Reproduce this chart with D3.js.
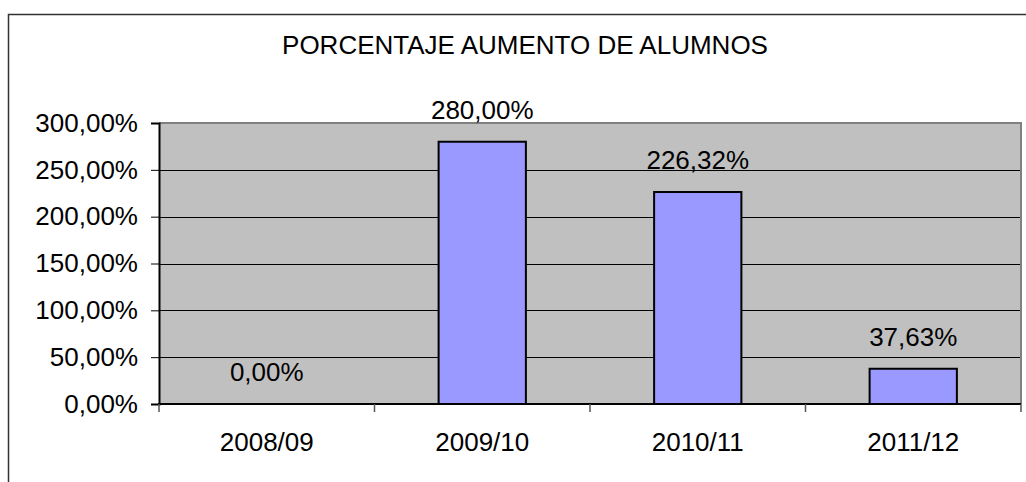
<!DOCTYPE html>
<html>
<head>
<meta charset="utf-8">
<script src="https://cdn.jsdelivr.net/npm/d3@7"></script>
<style>
html,body{margin:0;padding:0;background:#fff;}
svg{display:block;font-family:"Liberation Sans",Arial,sans-serif;}
</style>
</head>
<body>
<div id="bar"></div>
<script>
(function(){

const categories = ["2008/09","2009/10","2010/11","2011/12"];
const values = [0, 280, 226.32, 37.63];
const yTicks = [0, 50, 100, 150, 200, 250, 300];
const title = "PORCENTAJE AUMENTO DE ALUMNOS";

const width = 1026;
const height = 482;
const plot = {left:159, right:1021, top:123, bottom:404};
const fs = "26px";
const fmt = v => v.toFixed(2).replace(".", ",") + "%";

const svg = d3.select("#bar")
.append("svg")
.attr("width",width)
.attr("height",height);

// outer frame (runs past right and bottom edges)
svg.append("rect")
.attr("x",8.5).attr("y",14.5)
.attr("width",1040).attr("height",490)
.attr("fill","#fff")
.attr("stroke","#333")
.attr("stroke-width",1.5);

const x = d3.scaleBand()
.domain(categories)
.range([plot.left,plot.right])
.padding(0);

const y = d3.scaleLinear()
.domain([0,300])
.range([plot.bottom,plot.top]);

// plot background
svg.append("rect")
.attr("x",plot.left).attr("y",plot.top)
.attr("width",plot.right-plot.left)
.attr("height",plot.bottom-plot.top)
.attr("fill","#c0c0c0");

// gridlines
svg.append("g")
.selectAll("line")
.data(yTicks.filter(t=>t>0 && t<300))
.enter()
.append("line")
.attr("x1",plot.left).attr("x2",plot.right)
.attr("y1",d=>Math.round(y(d))+0.5).attr("y2",d=>Math.round(y(d))+0.5)
.attr("stroke","#000")
.attr("stroke-width",1);

// top and right border of plot area
svg.append("path")
.attr("d",`M${plot.left},${plot.top} H${plot.right} V${plot.bottom}`)
.attr("fill","none")
.attr("stroke","#808080")
.attr("stroke-width",2);

// bars
const bw = x.bandwidth()*0.405;
svg.selectAll("rect.bar")
.data(values.map((v,i)=>({cat:categories[i],v:v})).filter(d=>d.v>0))
.enter()
.append("rect")
.attr("class","bar")
.attr("x",d=>x(d.cat)+x.bandwidth()/2-bw/2)
.attr("y",d=>y(d.v))
.attr("width",bw)
.attr("height",d=>plot.bottom-y(d.v))
.attr("fill","#9999ff")
.attr("stroke","#000")
.attr("stroke-width",2);

// y axis
const yAxis = svg.append("g")
.attr("transform",`translate(${plot.left},0)`)
.call(d3.axisLeft(y).tickValues(yTicks).tickSize(8).tickPadding(13).tickFormat(fmt));
yAxis.select(".domain").attr("stroke","#000").attr("stroke-width",2);
yAxis.selectAll(".tick line").attr("stroke","#000").attr("stroke-width",1);
yAxis.selectAll(".tick text")
.attr("font-size",fs)
.attr("font-family","Liberation Sans, Arial, sans-serif")
.attr("fill","#000")
.attr("dy","0.32em");

// x axis: ticks at category boundaries
const xAxisG = svg.append("g");
xAxisG.append("line")
.attr("x1",plot.left-1).attr("x2",plot.right)
.attr("y1",plot.bottom).attr("y2",plot.bottom)
.attr("stroke","#000").attr("stroke-width",2);
xAxisG.selectAll("line.tk")
.data(categories.map(c=>x(c)).concat([plot.right]))
.enter()
.append("line")
.attr("class","tk")
.attr("x1",d=>d).attr("x2",d=>d)
.attr("y1",plot.bottom).attr("y2",plot.bottom+8)
.attr("stroke","#555").attr("stroke-width",1.5);
xAxisG.selectAll("text")
.data(categories)
.enter()
.append("text")
.attr("x",d=>x(d)+x.bandwidth()/2)
.attr("y",451)
.attr("text-anchor","middle")
.attr("font-size",fs)
.text(d=>d);

// value labels
svg.selectAll("text.lbl")
.data(values.map((v,i)=>({cat:categories[i],v:v})))
.enter()
.append("text")
.attr("class","lbl")
.attr("x",d=>x(d.cat)+x.bandwidth()/2)
.attr("y",d=>y(d.v)-23)
.attr("text-anchor","middle")
.attr("font-size",fs)
.text(d=>fmt(d.v));

// title
svg.append("text")
.attr("x",525)
.attr("y",54)
.attr("text-anchor","middle")
.attr("font-size",fs)
.text(title);

})();
</script>
</body>
</html>
